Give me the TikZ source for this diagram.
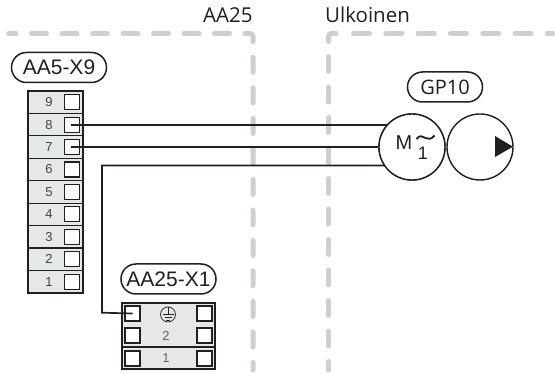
\documentclass[tikz,border=0pt]{standalone}
\usepackage{fontspec}
\setmainfont{Open Sans}
\newfontfamily\arialf{Liberation Sans}
\definecolor{dashgray}{HTML}{CDCFD0}
\definecolor{stripfill}{HTML}{E6E7E8}
\definecolor{ink}{HTML}{231F20}
\tikzset{x=1pt,y=-1pt,
 zone/.style={draw=dashgray,line width=5pt,line cap=round,rounded corners=3pt,dash pattern=on 15pt off 15.5pt},
 zonesolid/.style={draw=dashgray,line width=5pt,line cap=round,rounded corners=3pt},
 zonelong/.style={draw=dashgray,line width=5pt,line cap=round,dash pattern=on 16pt off 16.3pt},
 pill/.style={draw=ink,line width=1.5pt,rounded corners=15pt,fill=white,inner sep=0pt},
 term/.style={draw=ink,line width=1.1pt,fill=white,minimum size=15pt,inner sep=0pt},
 wirestyle/.style={draw=ink,line width=1.7pt},
 edge/.style={draw=ink,line width=2.4pt},
 digit/.style={font=\arialf\fontsize{13}{13}\selectfont,text=ink!85,inner sep=0pt},
 title/.style={font=\fontsize{20.5}{21}\selectfont,text=ink,anchor=base west,inner sep=0pt},
 pilltext/.style={font=\arialf\fontsize{21}{21}\selectfont,text=ink,inner sep=0pt},
 motor/.style={circle,draw=ink,line width=1.4pt,fill=white,minimum size=66pt,inner sep=0pt}}
\begin{document}
\begin{tikzpicture}
\useasboundingbox (0,0) rectangle (555,374);
\fill[white] (0,0) rectangle (555,374);
\coordinate (zl) at (8.5,33.5); \coordinate (zc1) at (253,33.5); \coordinate (zb1) at (253,370);
\coordinate (zr) at (553,33.5); \coordinate (zc2) at (328.5,33.5); \coordinate (zb2) at (328.5,370);
\coordinate (zs) at (328.5,41.5); \coordinate (ze) at (336,33.5);
\coordinate (zv) at (328.5,56.5); \coordinate (zh) at (353.5,33.5);
\draw[zone,dash phase=7.5pt] (zl) -- (zc1) -- (zb1);
\draw[zonesolid] (zs) -- (zc2) -- (ze);
\draw[zone] (zv) -- (zb2);
\draw[zonelong] (zh) -- (zr);
\node[title] (ta) at (203,23) {AA25};
\node[title] (tb) at (325,23) {Ulkoinen};
% strip
\fill[stripfill] (28,91) rectangle (83,293);
\foreach \i/\n in {0/9,1/8,2/7,3/6,4/5,5/4,6/3,7/2,8/1}{
  \node[digit] (d\n) at (49,102.2+22.44*\i) {\n};
  \node[term] (t\n) at (72.2,102.2+22.44*\i) {};
}
\foreach \i in {1,...,8} \draw[ink,line width=1.2pt] (28,91+22.44*\i) -- (83,91+22.44*\i);
\draw[edge] (28,91) rectangle (83,293);
\node[pill,minimum width=95pt,minimum height=30pt] (p1) at (59,67.5) {};
\node[pilltext] at (p1) {AA5-X9};
% box
\fill[stripfill] (122,303) rectangle (215,369);
\draw[ink,line width=1.2pt] (122,347) -- (215,347);
\draw[edge] (122,303) rectangle (215,369);
\foreach \y/\k in {313.5/a,335.5/b,358.5/c}{
  \node[term] (l\k) at (132.5,\y) {};
  \node[term] (r\k) at (204.5,\y) {};
}
\node[digit,text=ink!70] at (166,335.5) {2};
\node[digit,text=ink!70] at (166,358.5) {1};
\draw[ink,line width=0.7pt,fill=none] (168,314.5) circle (7.5pt);
\draw[ink,line width=0.7pt] (168,307) -- (168,314.5) (162.5,314.5) -- (173.5,314.5) (164.5,317.5) -- (171.5,317.5) (166,320) -- (170,320);
\node[pill,minimum width=95pt,minimum height=30pt] (p2) at (168.5,279) {};
\node[pilltext] at (p2) {AA25-X1};
% wires
\node[motor] (m) at (412,147) {};
\node[motor] (pu) at (480,147) {};
\coordinate (w8) at (71,124.9); \coordinate (w7) at (71,146.8);
\coordinate (w3a) at (102,165.5); \coordinate (w3b) at (102,312.7);
\draw[wirestyle] (w8) -- (m.center |- w8);
\draw[wirestyle] (w7) -- (m.west |- w7);
\draw[wirestyle] (la.center) -- (w3b) -- (w3a) -- (m.center |- w3a);
\node[motor] at (412,147) {};
\fill[ink] (495,136) -- (513,146.7) -- (495,157) -- cycle;
\node[font=\arialf\fontsize{20}{20}\selectfont,text=ink,inner sep=0pt] at (404,143) {M};
\node[font=\arialf\fontsize{18}{18}\selectfont,text=ink,inner sep=0pt] at (423,153.5) {1};
\draw[ink,line width=1.8pt] (416.5,139) .. controls (419.5,134.5) and (423,136.5) .. (425.5,138) .. controls (428,139.5) and (431.5,139.5) .. (434.5,135.5);
\node[pill,minimum width=75pt,minimum height=30pt] (p3) at (445,87) {};
\node[font=\fontsize{20}{20}\selectfont,text=ink,inner sep=0pt] at (p3) {GP10};
\end{tikzpicture}
\end{document}
